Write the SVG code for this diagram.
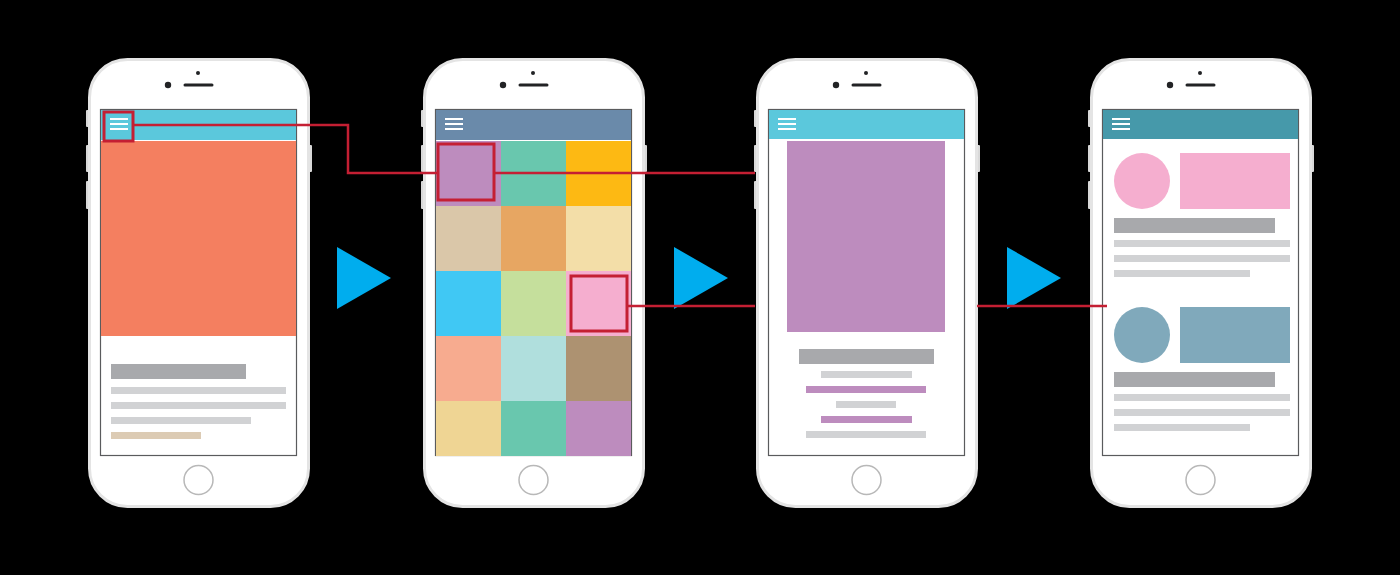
<svg xmlns="http://www.w3.org/2000/svg" xmlns:xlink="http://www.w3.org/1999/xlink" width="1400" height="575" viewBox="0 0 1400 575">
  <style>
    .btn { fill: #d9d9d9; }
    .body { fill: #ffffff; stroke: #e4e4e4; stroke-width: 3; }
    .screen { fill: #ffffff; stroke: #5a5b5d; stroke-width: 1.2; }
    .ink { fill: #222325; }
    .speaker { stroke: #222325; stroke-width: 3; stroke-linecap: round; }
    .home { fill: #ffffff; stroke: #b8b8b8; stroke-width: 1.5; }
    .burger { stroke: #ffffff; stroke-width: 2; }
    .title { fill: #a8a9ac; }
    .line { fill: #d1d2d4; }
    .hl { fill: none; stroke: #c41f33; stroke-width: 3; }
    .link { fill: none; stroke: #c41f33; stroke-width: 2.5; }
    .next { fill: #00adee; }
  </style>
  <defs>
    <!-- bare handset: bezel, side keys, camera, speaker, home key, screen outline -->
    <g id="handset">
      <rect class="btn" x="86" y="110" width="4" height="17" rx="1"/>
      <rect class="btn" x="86" y="145" width="4" height="27" rx="1"/>
      <rect class="btn" x="86" y="181" width="4" height="28" rx="1"/>
      <rect class="btn" x="308" y="145" width="4" height="27" rx="1"/>
      <rect class="body" x="89.5" y="59.5" width="219" height="447" rx="38"/>
      <circle class="ink" cx="198" cy="73" r="2"/>
      <circle class="ink" cx="168" cy="85" r="3.2"/>
      <line class="speaker" x1="185" y1="85" x2="212" y2="85"/>
      <circle class="home" cx="198.5" cy="480" r="14.5"/>
      <rect class="screen" x="100.5" y="109.5" width="196" height="346"/>
    </g>
    <g id="burger">
      <line class="burger" x1="110" y1="119" x2="128" y2="119"/>
      <line class="burger" x1="110" y1="124" x2="128" y2="124"/>
      <line class="burger" x1="110" y1="129" x2="128" y2="129"/>
    </g>
  </defs>

  <rect x="0" y="0" width="1400" height="575" fill="#000000"/>

  <!-- screen 1: article with hero image -->
  <g id="phone-article">
    <use xlink:href="#handset"/>
    <rect x="101" y="110" width="195" height="30" fill="#5bc8dc"/>
    <rect x="101" y="141" width="195" height="195" fill="#f47f60"/>
    <use xlink:href="#burger"/>
    <rect class="title" x="111" y="364" width="135" height="15"/>
    <rect class="line" x="111" y="387" width="175" height="7"/>
    <rect class="line" x="111" y="402" width="175" height="7"/>
    <rect class="line" x="111" y="417" width="140" height="7"/>
    <rect x="111" y="432" width="90" height="7" fill="#dccbb4"/>
    <rect class="hl" x="104" y="112" width="29" height="29"/>
  </g>

  <!-- screen 2: colour tile grid -->
  <g id="phone-grid" transform="translate(335,0)">
    <use xlink:href="#handset"/>
    <rect x="101" y="110" width="195" height="30" fill="#6a8aaa"/>
    <use xlink:href="#burger"/>
    <rect x="101" y="141" width="65" height="65" fill="#bd8cbe"/>
    <rect x="166" y="141" width="65" height="65" fill="#69c7ae"/>
    <rect x="231" y="141" width="65" height="65" fill="#fdb913"/>
    <rect x="101" y="206" width="65" height="65" fill="#dac7a9"/>
    <rect x="166" y="206" width="65" height="65" fill="#e7a662"/>
    <rect x="231" y="206" width="65" height="65" fill="#f3dea8"/>
    <rect x="101" y="271" width="65" height="65" fill="#40c8f4"/>
    <rect x="166" y="271" width="65" height="65" fill="#c5df9c"/>
    <rect x="231" y="271" width="65" height="65" fill="#f5aecf"/>
    <rect x="101" y="336" width="65" height="65" fill="#f7ab8f"/>
    <rect x="166" y="336" width="65" height="65" fill="#b0dfdd"/>
    <rect x="231" y="336" width="65" height="65" fill="#ad9271"/>
    <rect x="101" y="401" width="65" height="55" fill="#efd594"/>
    <rect x="166" y="401" width="65" height="55" fill="#69c7ae"/>
    <rect x="231" y="401" width="65" height="55" fill="#bd8cbe"/>
    <rect class="hl" x="103" y="144" width="56" height="56"/>
    <rect class="hl" x="236" y="276" width="56" height="55"/>
  </g>

  <!-- screen 3: item detail -->
  <g id="phone-detail" transform="translate(668,0)">
    <use xlink:href="#handset"/>
    <rect x="101" y="110" width="195" height="29" fill="#5bc8dc"/>
    <use xlink:href="#burger"/>
    <rect x="119" y="141" width="158" height="191" fill="#bd8cbe"/>
    <rect class="title" x="131" y="349" width="135" height="15"/>
    <rect class="line" x="153" y="371" width="91" height="7"/>
    <rect x="138" y="386" width="120" height="7" fill="#bd8cbe"/>
    <rect class="line" x="168" y="401" width="60" height="7"/>
    <rect x="153" y="416" width="91" height="7" fill="#bd8cbe"/>
    <rect class="line" x="138" y="431" width="120" height="7"/>
  </g>

  <!-- screen 4: card list -->
  <g id="phone-list" transform="translate(1002,0)">
    <use xlink:href="#handset"/>
    <rect x="101" y="110" width="195" height="29" fill="#4699aa"/>
    <use xlink:href="#burger"/>
    <circle cx="140" cy="181" r="28" fill="#f5aecf"/>
    <rect x="178" y="153" width="110" height="56" fill="#f5aecf"/>
    <rect class="title" x="112" y="218" width="161" height="15"/>
    <rect class="line" x="112" y="240" width="176" height="7"/>
    <rect class="line" x="112" y="255" width="176" height="7"/>
    <rect class="line" x="112" y="270" width="136" height="7"/>
    <circle cx="140" cy="335" r="28" fill="#80a9bb"/>
    <rect x="178" y="307" width="110" height="56" fill="#80a9bb"/>
    <rect class="title" x="112" y="372" width="161" height="15"/>
    <rect class="line" x="112" y="394" width="176" height="7"/>
    <rect class="line" x="112" y="409" width="176" height="7"/>
    <rect class="line" x="112" y="424" width="136" height="7"/>
  </g>

  <!-- flow arrows between screens -->
  <g id="steps">
    <polygon class="next" points="337,247 337,309 391,278"/>
    <polygon class="next" points="674,247 674,309 728,278"/>
    <polygon class="next" points="1007,247 1007,309 1061,278"/>
  </g>

  <!-- red tap paths -->
  <g id="connectors">
    <polyline class="link" points="133,125 348,125 348,173 438,173"/>
    <line class="link" x1="494" y1="173" x2="755" y2="173"/>
    <line class="link" x1="627" y1="306" x2="755" y2="306"/>
    <line class="link" x1="977" y1="306" x2="1107" y2="306"/>
  </g>
</svg>
